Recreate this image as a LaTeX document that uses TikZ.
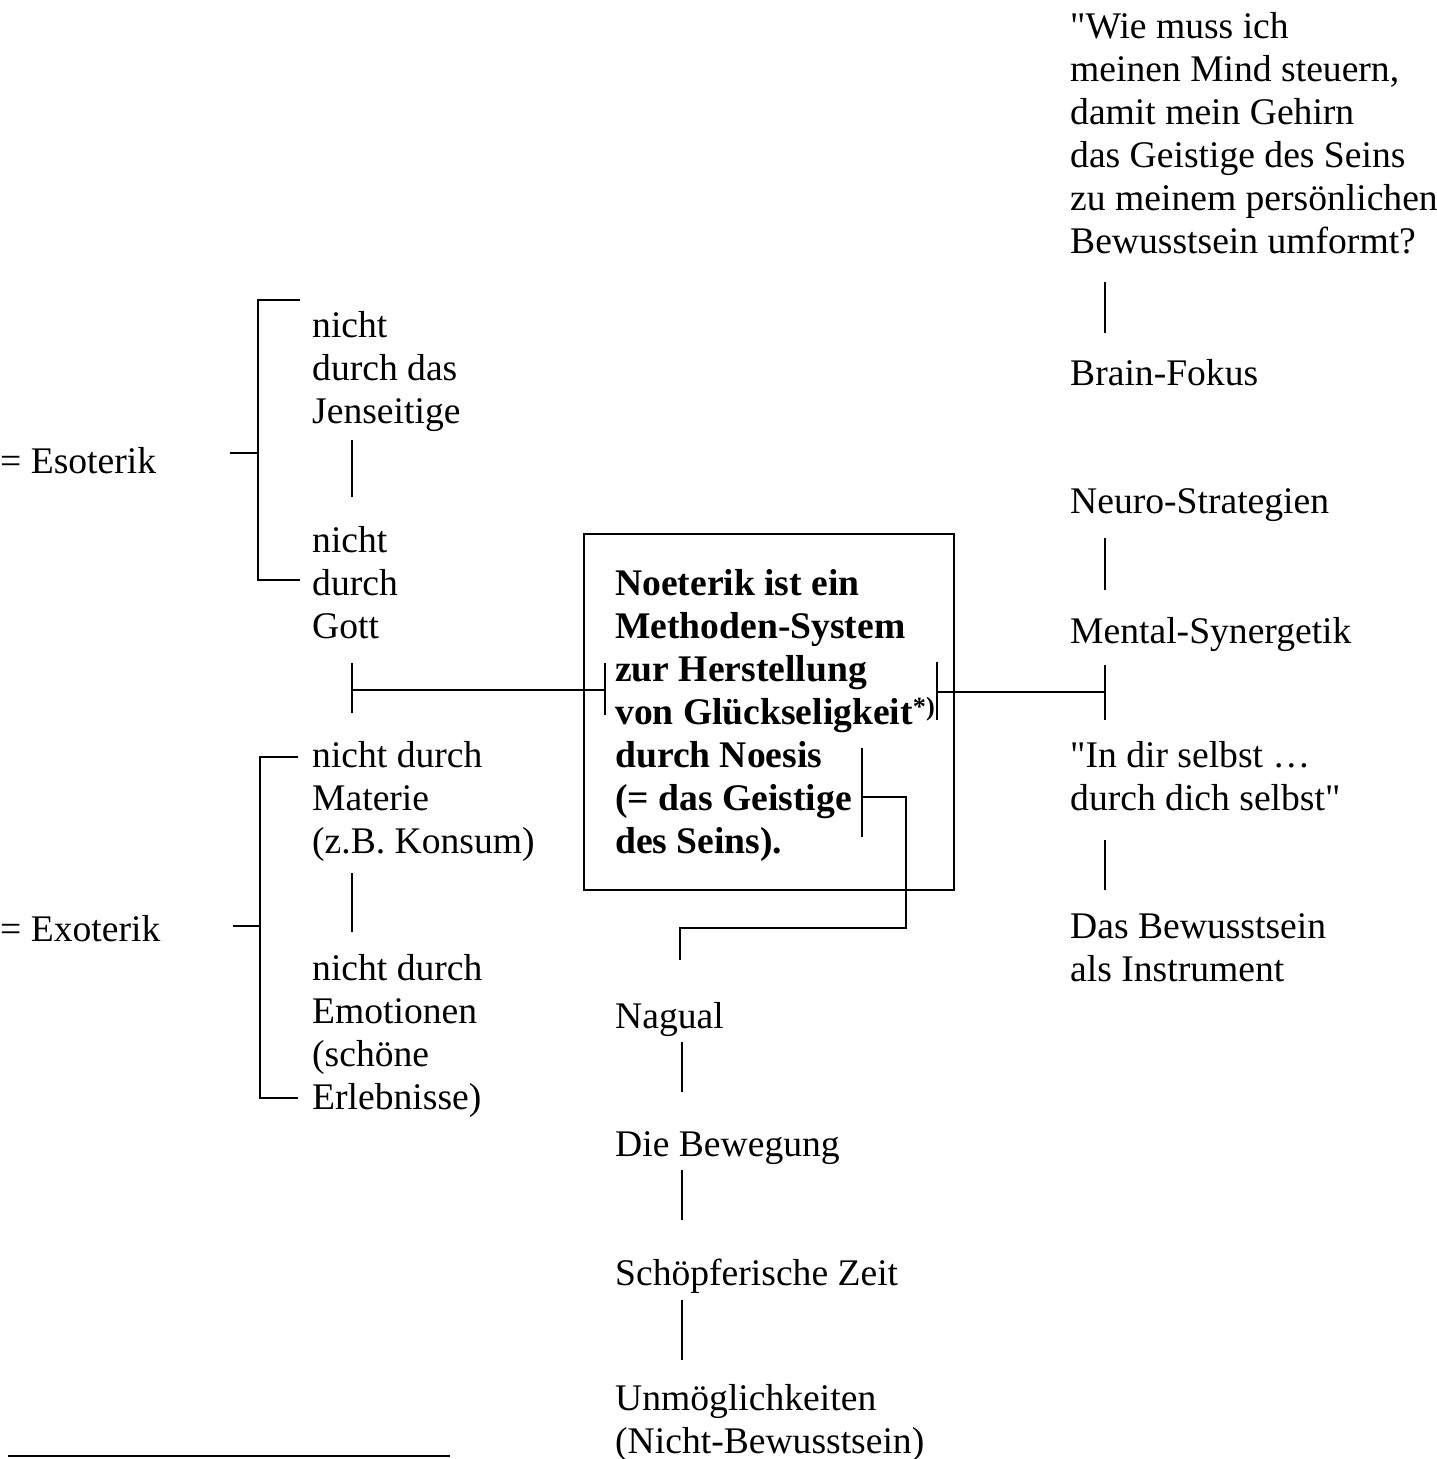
\documentclass[tikz,border=0pt]{standalone}
\usepackage{fontspec}
\setmainfont{Liberation Serif}[Ligatures=TeXOff]
\begin{document}
\begin{tikzpicture}[x=1pt,y=-1pt,
  txt/.style={anchor=north west,inner sep=0pt,align=left,
    font=\fontsize{37.6}{43}\selectfont,execute at begin node=\strut},
  btxt/.style={txt,font=\fontsize{37.6}{43}\selectfont\bfseries},
  conn/.style={line width=2pt,line cap=butt}]
\useasboundingbox (0,0) rectangle (1437,1459);
% strut height = 0.7*43 = 30.1 -> top = baseline - 30.1
\def\sh{30.1}
% right column
\node[txt] (q) at (1070,42-\sh) {"Wie muss ich\\meinen Mind steuern,\\damit mein Gehirn\\das Geistige des Seins\\zu meinem persönlichen\\Bewusstsein umformt?};
\node[txt] (bf) at (1070,385-\sh) {Brain-Fokus};
\node[txt] (ns) at (1070,513-\sh) {Neuro-Strategien};
\node[txt] (ms) at (1070,643-\sh) {Mental-Synergetik};
\node[txt] (ids) at (1070,771-\sh) {"In dir selbst …\\durch dich selbst"};
\node[txt] (db) at (1070,943-\sh) {Das Bewusstsein\\als Instrument};
% left column
\node[txt] (eso) at (0,473-\sh) {= Esoterik};
\node[txt] (exo) at (0,941-\sh) {= Exoterik};
\node[txt] (jen) at (312,341-\sh) {nicht\\durch das\\Jenseitige};
\node[txt] (gott) at (312,556-\sh) {nicht\\durch\\Gott};
\node[txt] (mat) at (312,771-\sh) {nicht durch\\Materie\\(z.B. Konsum)};
\node[txt] (emo) at (312,984-\sh) {nicht durch\\Emotionen\\(schöne\\Erlebnisse)};
% box
\node[draw,line width=2pt,minimum width=370pt,minimum height=356pt,anchor=north west,inner sep=0pt] (box) at (583,533) {};
\node[btxt] (bt) at (615,599-\sh) {Noeterik ist ein\\Methoden-System\\zur Herstellung\\von Glückseligkeit\textsuperscript{*)}\\durch Noesis\\(= das Geistige\\des Seins).};
% bottom column
\node[txt] (nag) at (615,1028-\sh) {Nagual};
\node[txt] (bew) at (615,1156-\sh) {Die Bewegung};
\node[txt] (sz) at (615,1285-\sh) {Schöpferische Zeit};
\node[txt] (unm) at (615,1414-\sh) {Unmöglichkeiten\\(Nicht-Bewusstsein)};
% right column connectors
\draw[conn] (1105,282) -- (1105,333);
\draw[conn] (1105,538) -- (1105,590);
\draw[conn] (1105,665) -- (1105,720);
\draw[conn] (1105,840) -- (1105,890);
\draw[conn] (937,692) -- (1105,692);
\draw[conn] (937,662) -- (937,720);
% left brackets
\draw[conn] (300,300) -- (258,300) -- (258,580) -- (300,580);
\draw[conn] (230,453) -- (258,453);
\draw[conn] (298,757) -- (260,757) -- (260,1098) -- (298,1098);
\draw[conn] (233,926) -- (260,926);
\draw[conn] (352,440) -- (352,497);
\draw[conn] (352,873) -- (352,932);
\draw[conn] (352,663) -- (352,713);
\draw[conn] (352,690) -- (605,690);
\draw[conn] (605,663) -- (605,715);
% lower connector
\draw[conn] (862,748) -- (862,837);
\draw[conn] (862,797) -- (906,797) -- (906,928) -- (680,928) -- (680,960);
\draw[conn] (682,1042) -- (682,1092);
\draw[conn] (682,1170) -- (682,1220);
\draw[conn] (682,1300) -- (682,1360);
% footnote rule
\draw[conn] (8,1456) -- (450,1456);
\end{tikzpicture}
\end{document}
